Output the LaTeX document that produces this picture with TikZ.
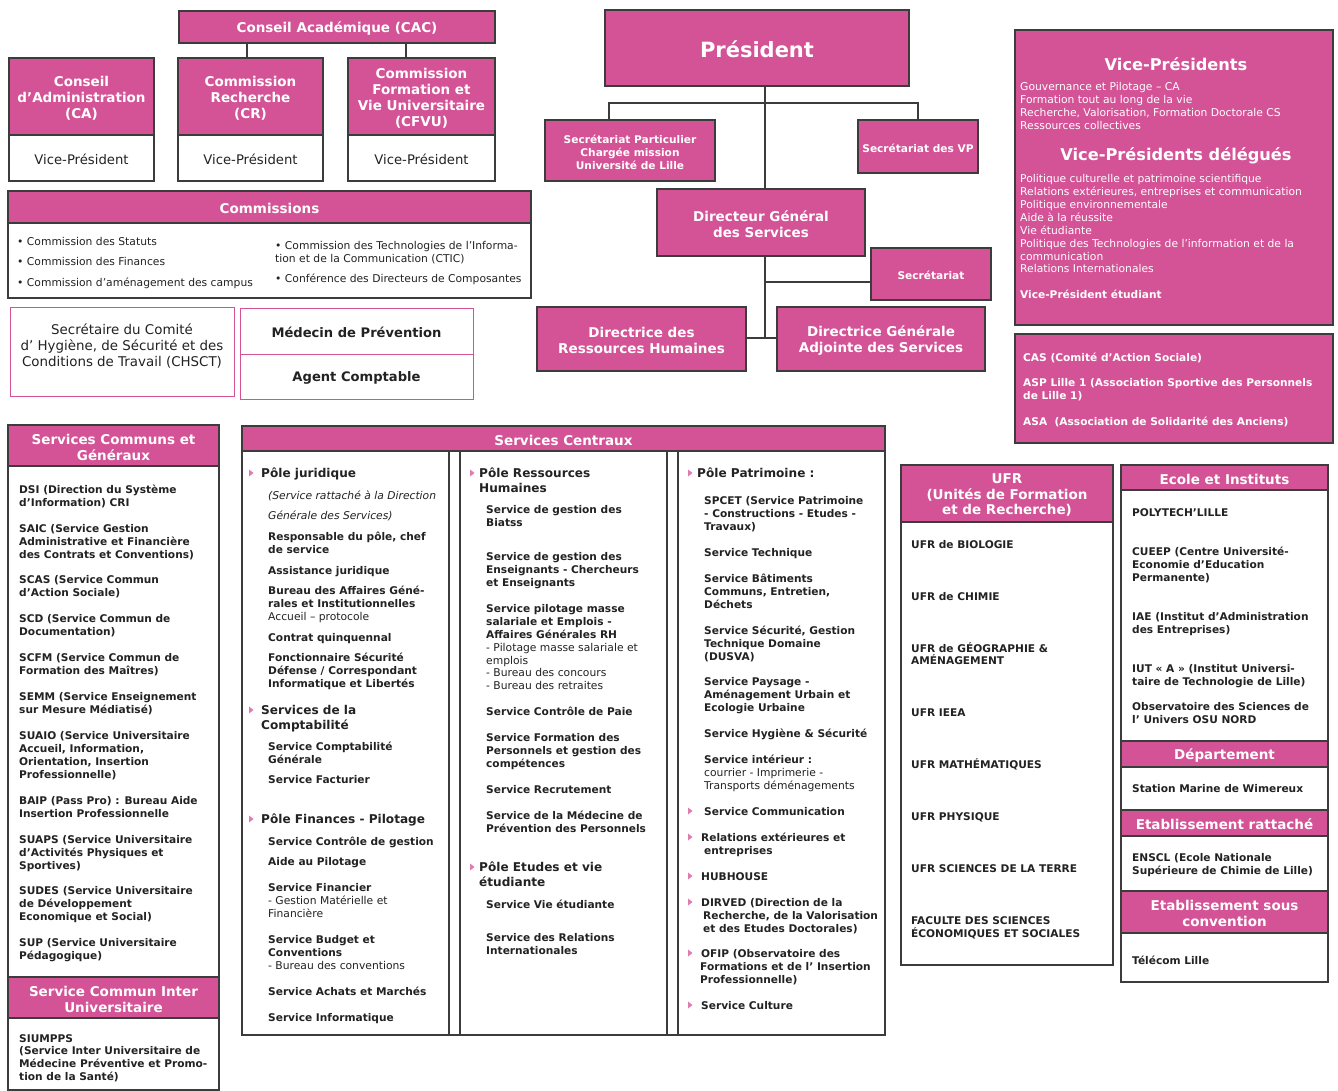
\documentclass[tikz,border=0pt]{standalone}
\usepackage{fontspec}
\setmainfont{DejaVu Sans}
\definecolor{pk}{RGB}{212,82,150}
\definecolor{bd}{RGB}{60,60,60}
\definecolor{tx}{RGB}{34,34,34}
\newcommand\ftB{\fontsize{10.6}{13}\bfseries}
\newcommand\ftN{\fontsize{10.75}{13}\mdseries\upshape}
\newcommand\ftI{\fontsize{10.75}{13}\mdseries\itshape}
\newcommand\ftH{\fontsize{13.5}{16}\bfseries}
\newcommand\ftPo{\fontsize{12.1}{15}\bfseries}
\newcommand\ftV{\fontsize{13.2}{16}\mdseries}
\newcommand\ftC{\fontsize{13.4}{16}\mdseries}
\newcommand\ftM{\fontsize{13.1}{16}\bfseries}
\newcommand\ftP{\fontsize{21}{25}\bfseries}
\newcommand\ftT{\fontsize{16.2}{19}\bfseries}
\newcommand\bx[7][]{\node[#1, minimum width={(#5)-(#3)}, minimum height={(#6)-(#4)}] (#2) at ({((#3)+(#5))/2},{((#4)+(#6))/2}) {};
 \node[#1, draw=none, fill=none, yshift=-1.5pt] (#2-t) at (#2.center) {#7};}
\newcommand\tri[2]{\fill[pk!75] ({#1-2},{#2-3.5}) -- ({#1+2.5},{#2}) -- ({#1-2},{#2+3.5}) -- cycle;}
\tikzset{
 pinkbox/.style={draw=bd, fill=pk, line width=1.3pt, inner sep=0pt, outer sep=0pt, text=white, align=center},
 whitebox/.style={draw=bd, fill=white, line width=1.3pt, inner sep=0pt, outer sep=0pt, text=tx, align=center},
 pinkline/.style={draw=pk, fill=white, line width=1pt, inner sep=0pt, outer sep=0pt, text=tx, align=center},
 conn/.style={draw=bd, line width=1.6pt},
 ln/.style={anchor=mid west, inner sep=0pt, text=tx, font=\ftB, yshift=-2pt},
 wl/.style={anchor=mid west, inner sep=0pt, text=white, font=\ftN, yshift=-2pt},
}
\begin{document}
\begin{tikzpicture}[x=1pt,y=-1pt]
\useasboundingbox (0,0) rectangle (1338,1091);

% ---- top left
\bx[pinkbox,font=\ftH]{cac}{179}{11}{495}{43}{Conseil Académique (CAC)}
\bx[pinkbox,font=\ftH]{ca}{9}{58}{154}{135}{Conseil\\d’Administration\\(CA)}
\bx[whitebox,font=\ftV]{cav}{9}{135}{154}{181}{Vice-Président}
\bx[pinkbox,font=\ftH]{cr}{178}{58}{323}{135}{Commission\\Recherche\\(CR)}
\bx[whitebox,font=\ftV]{crv}{178}{135}{323}{181}{Vice-Président}
\bx[pinkbox,font=\ftH]{cfvu}{348}{58}{495}{135}{Commission\\Formation et\\Vie Universitaire\\(CFVU)}
\bx[whitebox,font=\ftV]{cfvuv}{348}{135}{495}{181}{Vice-Président}
\draw[conn] (cac.south -| 247,0) -- (cr.north -| 247,0);
\draw[conn] (cac.south -| 406,0) -- (cfvu.north -| 406,0);

\bx[whitebox]{comm}{8}{191}{531}{298}{}
\bx[pinkbox,font=\ftH]{commh}{8}{191}{531}{223}{Commissions}
\foreach \x/\y/\t [count=\i] in {
 17/241/{• Commission des Statuts},
 17/261/{• Commission des Finances},
 17/282/{• Commission d’aménagement des campus},
 275/245/{• Commission des Technologies de l’Informa-},
 275/258/{tion et de la Communication (CTIC)},
 275/278/{• Conférence des Directeurs de Composantes}}
 {\node[ln,font=\ftN] (cm\i) at (\x,\y) {\t};}

\bx[pinkline]{chsct}{10}{307}{234}{396}{}
\node[font=\ftC, text=tx, align=center, inner sep=0pt] (chsctt) at (122,346) {Secrétaire du Comité\\d’ Hygiène, de Sécurité et des\\Conditions de Travail (CHSCT)};
\bx[pinkline,font=\ftM]{med}{240}{308}{473}{354}{Médecin de Prévention}
\bx[pinkline,font=\ftM]{agent}{240}{354}{473}{399}{Agent Comptable}

% ---- middle
\bx[pinkbox,font=\ftP]{pres}{605}{10}{909}{86}{Président}
\bx[pinkbox,font=\ftB]{sp}{545}{120}{715}{181}{Secrétariat Particulier\\Chargée mission\\Université de Lille}
\bx[pinkbox,font=\ftB]{svp}{858}{120}{978}{173}{Secrétariat des VP}
\bx[pinkbox,font=\ftH]{dgs}{657}{189}{865}{256}{Directeur Général\\des Services}
\bx[pinkbox,font=\ftB]{sec}{871}{248}{991}{300}{Secrétariat}
\bx[pinkbox,font=\ftH]{drh}{537}{307}{746}{371}{Directrice des\\Ressources Humaines}
\bx[pinkbox,font=\ftH]{dga}{777}{307}{985}{371}{Directrice Générale\\Adjointe des Services}
\draw[conn] (pres.south -| 765,0) -- (dgs.north -| 765,0);
\draw[conn] (sp.north -| 609,0) |- (765,103) -| (svp.north -| 918,0);
\coordinate (j1) at (765,338);
\coordinate (j2) at (765,282);
\draw[conn] (dgs.south -| 765,0) -- (j1);
\draw[conn] (drh.east |- j1) -- (dga.west |- j1);
\draw[conn] (j2) -- (sec.west |- j2);

% ---- right
\bx[pinkbox]{vp}{1015}{30}{1333}{325}{}
\node[font=\ftT, text=white, inner sep=0pt] (vpt) at (1176,64) {Vice-Présidents};
\node[font=\ftT, text=white, inner sep=0pt] (vpdt) at (1176,156) {Vice-Présidents délégués};
\foreach \y/\t [count=\i] in {
 86/{Gouvernance et Pilotage – CA},
 99/{Formation tout au long de la vie},
 112/{Recherche, Valorisation, Formation Doctorale CS},
 125/{Ressources collectives},
 178/{Politique culturelle et patrimoine scientifique},
 191/{Relations extérieures, entreprises et communication},
 204/{Politique environnementale},
 217/{Aide à la réussite},
 230/{Vie étudiante},
 243/{Politique des Technologies de l’information et de la},
 256/{communication},
 268/{Relations Internationales},
 294/{\ftB Vice-Président étudiant}}
 {\node[wl] (vpl\i) at (1020,\y) {\t};}

\bx[pinkbox]{cas}{1015}{334}{1333}{443}{}
\foreach \y/\t [count=\i] in {
 357/{CAS (Comité d’Action Sociale)},
 382/{ASP Lille 1 (Association Sportive des Personnels},
 395/{de Lille 1)},
 421/{ASA\ \ (Association de Solidarité des Anciens)}}
 {\node[wl,font=\ftB] (casl\i) at (1023,\y) {\t};}

% ---- services communs
\bx[whitebox]{scg}{8}{425}{219}{1090}{}
\bx[pinkbox,font=\ftH]{scgh}{8}{425}{219}{466}{Services Communs et\\Généraux}
\bx[pinkbox,font=\ftH]{sciuh}{8}{977}{219}{1018}{Service Commun Inter\\Universitaire}
\foreach \y/\t [count=\i] in {
 489/{DSI (Direction du Système},
 502/{d’Information) CRI},
 528/{SAIC (Service Gestion},
 541/{Administrative et Financière},
 554/{des Contrats et Conventions)},
 579/{SCAS (Service Commun},
 592/{d’Action Sociale)},
 618/{SCD (Service Commun de},
 631/{Documentation)},
 657/{SCFM (Service Commun de},
 670/{Formation des Maîtres)},
 696/{SEMM (Service Enseignement},
 709/{sur Mesure Médiatisé)},
 735/{SUAIO (Service Universitaire},
 748/{Accueil, Information,},
 761/{Orientation, Insertion},
 774/{Professionnelle)},
 800/{BAIP (Pass Pro) : Bureau Aide},
 813/{Insertion Professionnelle},
 839/{SUAPS (Service Universitaire},
 852/{d’Activités Physiques et},
 865/{Sportives)},
 890/{SUDES (Service Universitaire},
 903/{de Développement},
 916/{Economique et Social)},
 942/{SUP (Service Universitaire},
 955/{Pédagogique)},
 1038/{SIUMPPS},
 1050/{(Service Inter Universitaire de},
 1063/{Médecine Préventive et Promo-},
 1076/{tion de la Santé)}}
 {\node[ln] (scl\i) at (19,\y) {\t};}

% ---- services centraux
\bx[whitebox]{sc}{242}{426}{885}{1035}{}
\bx[pinkbox,font=\ftH]{sch}{242}{426}{885}{451}{Services Centraux}
\foreach \xx in {449,460,667,678}
 {\draw[bd, line width=1.3pt] (sch.south -| \xx,0) -- (sc.south -| \xx,0);}

\foreach \x/\y/\t [count=\i] in {
 261/473/{\ftPo Pôle juridique},
 268/495/{\ftI (Service rattaché à la Direction},
 268/515/{\ftI Générale des Services)},
 268/536/{Responsable du pôle, chef},
 268/549/{de service},
 268/570/{Assistance juridique},
 268/590/{Bureau des Affaires Géné-},
 268/603/{rales et Institutionnelles},
 268/616/{\ftN Accueil – protocole},
 268/637/{Contrat quinquennal},
 268/657/{Fonctionnaire Sécurité},
 268/670/{Défense / Correspondant},
 268/683/{Informatique et Libertés},
 261/710/{\ftPo Services de la},
 261/725/{\ftPo Comptabilité},
 268/746/{Service Comptabilité},
 268/759/{Générale},
 268/779/{Service Facturier},
 261/819/{\ftPo Pôle Finances - Pilotage},
 268/841/{Service Contrôle de gestion},
 268/861/{Aide au Pilotage},
 268/887/{Service Financier},
 268/900/{\ftN - Gestion Matérielle et},
 268/913/{\ftN Financière},
 268/939/{Service Budget et},
 268/952/{Conventions},
 268/965/{\ftN - Bureau des conventions},
 268/991/{Service Achats et Marchés},
 268/1017/{Service Informatique}}
 {\node[ln] (ca\i) at (\x,\y) {\t};}
\tri{251}{473}\tri{251}{710}\tri{251}{819}

\foreach \x/\y/\t [count=\i] in {
 479/473/{\ftPo Pôle Ressources},
 479/488/{\ftPo Humaines},
 486/509/{Service de gestion des},
 486/522/{Biatss},
 486/556/{Service de gestion des},
 486/569/{Enseignants - Chercheurs},
 486/582/{et Enseignants},
 486/608/{Service pilotage masse},
 486/621/{salariale et Emplois -},
 486/634/{Affaires Générales RH},
 486/647/{\ftN - Pilotage masse salariale et},
 486/660/{\ftN emplois},
 486/672/{\ftN - Bureau des concours},
 486/685/{\ftN - Bureau des retraites},
 486/711/{Service Contrôle de Paie},
 486/737/{Service Formation des},
 486/750/{Personnels et gestion des},
 486/763/{compétences},
 486/789/{Service Recrutement},
 486/815/{Service de la Médecine de},
 486/828/{Prévention des Personnels},
 479/867/{\ftPo Pôle Etudes et vie},
 479/882/{\ftPo étudiante},
 486/904/{Service Vie étudiante},
 486/937/{Service des Relations},
 486/950/{Internationales}}
 {\node[ln] (cb\i) at (\x,\y) {\t};}
\tri{472}{473}\tri{472}{867}

\foreach \x/\y/\t [count=\i] in {
 697/473/{\ftPo Pôle Patrimoine :},
 704/500/{SPCET (Service Patrimoine},
 704/513/{- Constructions - Etudes -},
 704/526/{Travaux)},
 704/552/{Service Technique},
 704/578/{Service Bâtiments},
 704/591/{Communs, Entretien,},
 704/604/{Déchets},
 704/630/{Service Sécurité, Gestion},
 704/643/{Technique Domaine},
 704/656/{(DUSVA)},
 704/681/{Service Paysage -},
 704/694/{Aménagement Urbain et},
 704/707/{Ecologie Urbaine},
 704/733/{Service Hygiène \& Sécurité},
 704/759/{Service intérieur :},
 704/772/{\ftN courrier - Imprimerie -},
 704/785/{\ftN Transports déménagements},
 704/811/{Service Communication},
 701/837/{Relations extérieures et},
 704/850/{entreprises},
 701/876/{HUBHOUSE},
 701/902/{DIRVED (Direction de la},
 703/915/{Recherche, de la Valorisation},
 703/928/{et des Etudes Doctorales)},
 701/953/{OFIP (Observatoire des},
 700/966/{Formations et de l’ Insertion},
 700/979/{Professionnelle)},
 701/1005/{Service Culture}}
 {\node[ln] (cc\i) at (\x,\y) {\t};}
\foreach \yy in {473,811,837,876,902,953,1005} {\tri{690}{\yy}}

% ---- UFR
\bx[whitebox]{ufr}{901}{465}{1113}{965}{}
\bx[pinkbox,font=\fontsize{13.5}{15.5}\bfseries]{ufrh}{901}{465}{1113}{522}{UFR\\(Unités de Formation\\et de Recherche)}
\foreach \y/\t [count=\i] in {
 544/{UFR de BIOLOGIE},
 596/{UFR de CHIMIE},
 648/{UFR de GÉOGRAPHIE \&},
 660/{AMÉNAGEMENT},
 712/{UFR IEEA},
 764/{UFR MATHÉMATIQUES},
 816/{UFR PHYSIQUE},
 868/{UFR SCIENCES DE LA TERRE},
 920/{FACULTE DES SCIENCES},
 933/{ÉCONOMIQUES ET SOCIALES}}
 {\node[ln] (ufl\i) at (911,\y) {\t};}

% ---- Ecole
\bx[whitebox]{eco}{1121}{465}{1328}{982}{}
\bx[pinkbox,font=\ftH]{ecoh}{1121}{465}{1328}{490}{Ecole et Instituts}
\bx[pinkbox,font=\ftH]{deph}{1121}{741}{1328}{767}{Département}
\bx[pinkbox,font=\ftH]{erh}{1121}{810}{1328}{836}{Etablissement rattaché}
\bx[pinkbox,font=\ftH]{esch}{1121}{891}{1328}{933}{Etablissement sous\\convention}
\foreach \y/\t [count=\i] in {
 512/{POLYTECH’LILLE},
 551/{CUEEP (Centre Université-},
 564/{Economie d’Education},
 577/{Permanente)},
 616/{IAE (Institut d’Administration},
 629/{des Entreprises)},
 668/{IUT « A » (Institut Universi-},
 681/{taire de Technologie de Lille)},
 706/{Observatoire des Sciences de},
 719/{l’ Univers OSU NORD},
 788/{Station Marine de Wimereux},
 857/{ENSCL (Ecole Nationale},
 870/{Supérieure de Chimie de Lille)},
 960/{Télécom Lille}}
 {\node[ln] (ecl\i) at (1132,\y) {\t};}
\end{tikzpicture}
\end{document}
